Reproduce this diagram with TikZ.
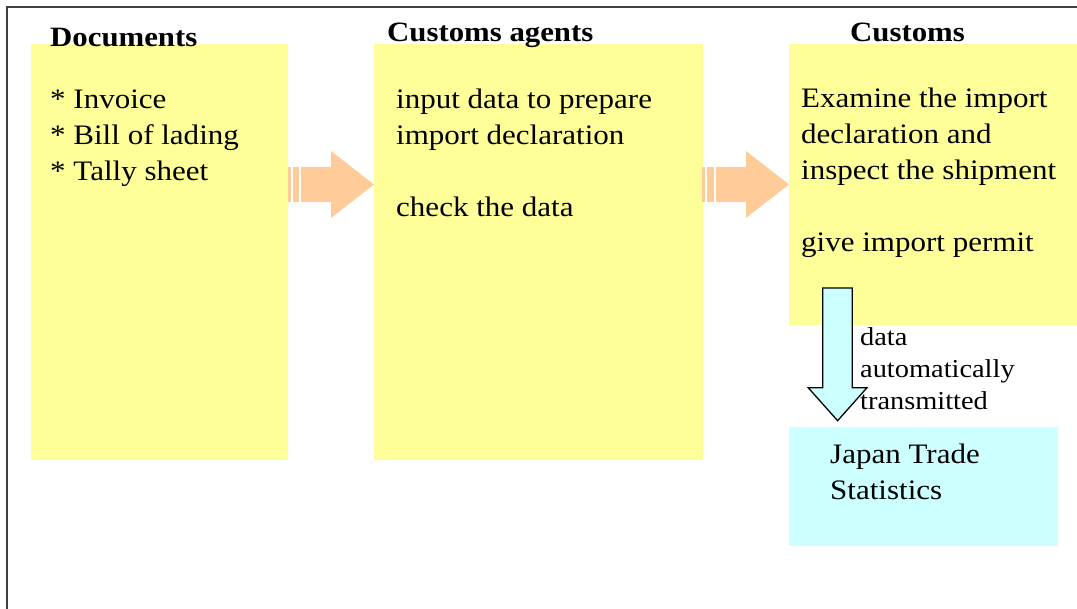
\documentclass[tikz,border=0pt]{standalone}
\usepackage{fontspec}
\setmainfont{Liberation Serif}[FakeStretch=1.1]
\definecolor{boxyellow}{HTML}{FFFF99}
\definecolor{arroworange}{HTML}{FFCC99}
\definecolor{boxcyan}{HTML}{CCFFFF}
\definecolor{framegray}{HTML}{404040}
\tikzset{
  panel/.style={fill=boxyellow, draw=none, inner sep=0pt, outer sep=0pt, anchor=north west},
  cyanpanel/.style={fill=boxcyan, draw=none, inner sep=0pt, outer sep=0pt, anchor=north west},
  heading/.style={font=\fontsize{28}{32}\selectfont\bfseries, inner sep=0pt, anchor=base west},
  bodytext/.style={font=\fontsize{28.2}{36}\selectfont, align=left, inner sep=0pt, anchor=north west},
  smalltext/.style={font=\fontsize{25.8}{32}\selectfont, align=left, inner sep=0pt, anchor=north west},
  fatarrow/.style={fill=arroworange, draw=none},
  downarrow/.style={fill=boxcyan, draw=black, line width=1.3pt, line join=miter},
}
\begin{document}
\begin{tikzpicture}[x=1pt,y=-1pt]
\useasboundingbox (0,0) rectangle (1077,609);
% frame
\draw[framegray, line width=1.6pt] (6.8,609) -- (6.8,6.8) -- (1077,6.8);
% panels
\node[panel, minimum width=257pt, minimum height=416pt] (docs) at (31,44) {};
\node[panel, minimum width=329pt, minimum height=416pt] (agents) at (374,44) {};
\node[panel, minimum width=288pt, minimum height=281pt] (customs) at (789,44) {};
\node[cyanpanel, minimum width=269pt, minimum height=118pt] (jts) at (789,427.5) {};
% fat arrows
\fill[fatarrow] (287.5,167) rectangle (290.7,202);
\fill[fatarrow] (292.7,167) rectangle (299.3,202);
\fill[fatarrow] (301,167) -- (331,167) -- (331,151) -- (374,184.5) -- (331,218) -- (331,202) -- (301,202) -- cycle;
\fill[fatarrow] (702,167) rectangle (704.8,202);
\fill[fatarrow] (707,167) rectangle (714,202);
\fill[fatarrow] (716,167) -- (746,167) -- (746,151) -- (789,184.5) -- (746,218) -- (746,202) -- (716,202) -- cycle;
% down arrow
\draw[downarrow] (822.7,288) -- (852.3,288) -- (852.3,387.7) -- (867,387.7) -- (837.6,420.7) -- (808.2,387.7) -- (822.7,387.7) -- cycle;
% headings
\node[heading] (h1) at (50,47) {Documents};
\node[heading] (h2) at (387,42) {Customs agents};
\node[heading] (h3) at (850,42) {Customs};
% texts
\node[bodytext] (t1) at (50,80) {\rule{0pt}{28pt}* Invoice\\* Bill of lading\\* Tally sheet};
\node[bodytext] (t2) at (396,80) {\rule{0pt}{28pt}input data to prepare\\import declaration\\ \\check the data};
\node[bodytext] (t3) at (801,79) {\rule{0pt}{28pt}Examine the import\\declaration and\\inspect the shipment\\ \\give import permit};
\node[smalltext] (t4) at (860,319) {\rule{0pt}{26pt}data\\automatically\\transmitted};
\node[bodytext] (t5) at (830,435) {\rule{0pt}{28pt}Japan Trade\\Statistics};
\end{tikzpicture}
\end{document}
